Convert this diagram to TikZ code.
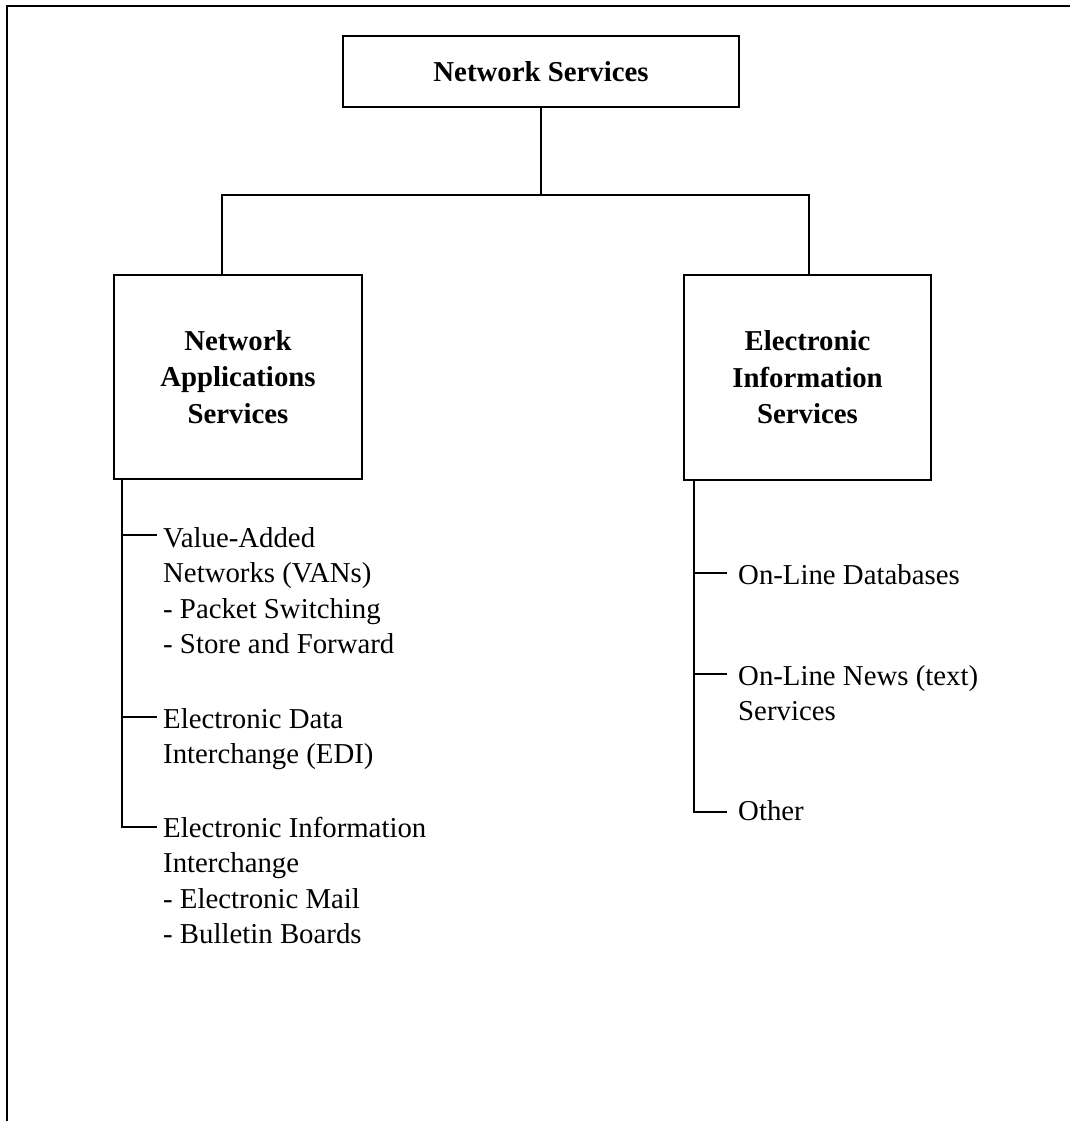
\documentclass[tikz,border=0pt]{standalone}
\usepackage{fontspec}
\setmainfont{Liberation Serif}
\usetikzlibrary{calc}
\begin{document}
\begin{tikzpicture}[x=1pt,y=-1pt,
  frame/.style={line width=2.6pt},
  box/.style={draw,line width=2.8pt,inner sep=0pt,align=center,font=\fontsize{28.8}{36.5}\selectfont\bfseries},
  item/.style={anchor=base west,inner sep=0pt,align=left,font=\fontsize{28.8}{35.5}\selectfont},
  link/.style={line width=2.8pt,line join=miter},
  tick/.style={line width=2.4pt}]
\useasboundingbox (0,0) rectangle (1070,1121);
\draw[frame] (7,1121) -- (7,6) -- (1070,6);
% boxes
\node[box, minimum width=396pt, minimum height=71pt] (top) at (541,71.5) {Network Services};
\node[box, minimum width=248pt, minimum height=204pt] (nas) at (238,377) {Network\\Applications\\Services};
\node[box, minimum width=247pt, minimum height=205pt] (eis) at (807.5,377.5) {Electronic\\Information\\Services};
% tree connectors
\coordinate (j) at (541,195);
\coordinate (jl) at (222,195);
\coordinate (jr) at (809,195);
\draw[link] (top.south) -- (j);
\draw[link] (nas.north -| jl) |- (j) -| (eis.north -| jr);
% left list
\coordinate (lx) at (122,0);
\coordinate (lt1) at (157,535);
\coordinate (lt2) at (157,717);
\coordinate (lt3) at (157,827);
\draw[link] (nas.south -| lx) |- (lt3);
\draw[tick] (lt1 -| lx) -- (lt1);
\draw[tick] (lt2 -| lx) -- (lt2);
\node[item] (i1) at (163,653.5) {Value-Added\\Networks (VANs)\\- Packet Switching\\- Store and Forward};
\node[item] (i2) at (163,763.5) {Electronic Data\\Interchange (EDI)};
\node[item] (i3) at (163,943.5) {Electronic Information\\Interchange\\- Electronic Mail\\- Bulletin Boards};
% right list
\coordinate (rx) at (694,0);
\coordinate (rt1) at (727,573);
\coordinate (rt2) at (727,674);
\coordinate (rt3) at (727,812);
\draw[link] (eis.south -| rx) |- (rt3);
\draw[tick] (rt1 -| rx) -- (rt1);
\draw[tick] (rt2 -| rx) -- (rt2);
\node[item] (r1) at (738,584) {On-Line Databases};
\node[item] (r2) at (738,720.5) {On-Line News (text)\\Services};
\node[item] (r3) at (738,820) {Other};
\end{tikzpicture}
\end{document}
